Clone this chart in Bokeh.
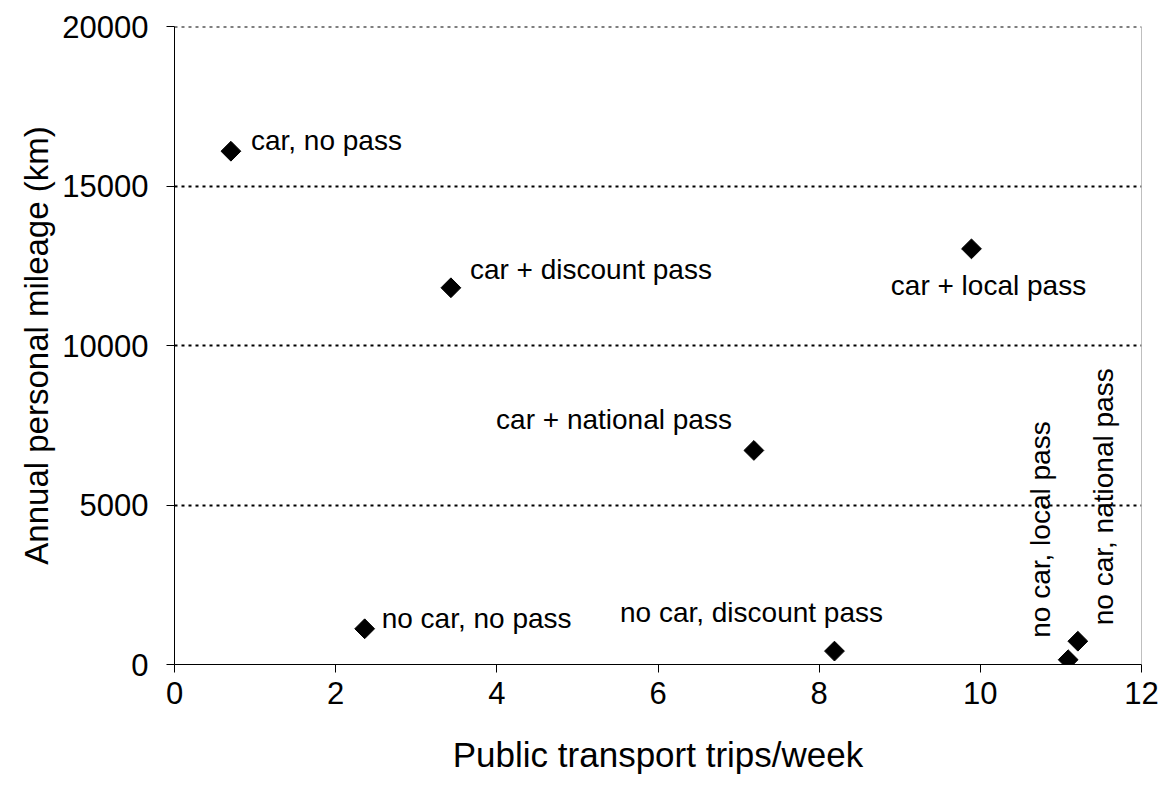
import numpy as np
from bokeh.plotting import figure
from bokeh.models import ColumnDataSource, Range1d, SingleIntervalTicker, Span
from bokeh.core.properties import value
from bokeh.embed import file_html
from bokeh.resources import INLINE

# ---- data ----
groups = ["car, no pass", "car + discount pass", "car + local pass", "car + national pass",
          "no car, no pass", "no car, discount pass", "no car, local pass", "no car, national pass"]
trips_per_week = [0.70, 3.43, 9.89, 7.19, 2.36, 8.19, 11.09, 11.21]
annual_km = [16090, 11810, 13030, 6710, 1120, 420, 150, 730]

x_ticks_interval = 2
y_ticks_interval = 5000
x_max = 12
y_max = 20000

# ---- label styling (pixel offsets, alignment, rotation) ----
lab_align = ["left", "left", "center", "right", "left", "center", "left", "left"]
lab_dx = [20, 19, 17, -22, 17, -83, -28, 26]
lab_dy = [-11, -18, 37, -31, -10, -39, -22, -16]
lab_angle = [0, 0, 0, 0, 0, 0, np.pi / 2, np.pi / 2]

FONT = "Liberation Sans"

src = ColumnDataSource(dict(x=trips_per_week, y=annual_km, label=groups,
                            align=lab_align, dx=lab_dx, dy=lab_dy, angle=lab_angle))

p = figure(width=1166, height=785, output_backend="svg", toolbar_location=None,
           x_range=Range1d(0, x_max), y_range=Range1d(0, y_max),
           min_border_left=174, min_border_right=25, min_border_top=26, min_border_bottom=121,
           background_fill_color="white", border_fill_color="white")
p.outline_line_color = None

# grid
p.xgrid.grid_line_color = None
p.ygrid.grid_line_color = "black"
p.ygrid.grid_line_dash = "3 4"
p.ygrid.grid_line_width = 2

# top dotted line and right border
p.add_layout(Span(location=y_max, dimension="width", line_color="black",
                  line_dash="3 4", line_width=2))
p.add_layout(Span(location=x_max, dimension="height", line_color="#808080", line_width=1))

# axes
p.xaxis.ticker = SingleIntervalTicker(interval=x_ticks_interval)
p.yaxis.ticker = SingleIntervalTicker(interval=y_ticks_interval)
for ax in (p.xaxis[0], p.yaxis[0]):
    ax.axis_line_color = "black"
    ax.axis_line_width = 1
    ax.major_tick_line_color = "black"
    ax.major_tick_in = 0
    ax.major_tick_out = 8
    ax.minor_tick_line_color = None
    ax.major_label_text_font = FONT
    ax.major_label_text_font_size = "31px"
    ax.major_label_text_color = "black"
    ax.axis_label_text_font = FONT
    ax.axis_label_text_font_style = "normal"
    ax.axis_label_text_color = "black"

p.xaxis.axis_label = "Public transport trips/week"
p.yaxis.axis_label = "Annual personal mileage (km)"
p.xaxis.axis_label_text_font_size = "35px"
p.yaxis.axis_label_text_font_size = "33px"
p.xaxis.major_label_standoff = 9
p.yaxis.major_label_standoff = 18
p.xaxis.axis_label_standoff = 28
p.yaxis.axis_label_standoff = 4

# markers
p.scatter("x", "y", source=src, marker="square", size=14, angle=np.pi / 4,
          fill_color="black", line_color="black")

# labels
p.text("x", "y", text="label", source=src, text_align="align", text_baseline="middle",
       x_offset="dx", y_offset="dy", angle="angle",
       text_font=value(FONT), text_font_size="28px", text_color="black")

open("out.html", "w").write(file_html(p, INLINE))
